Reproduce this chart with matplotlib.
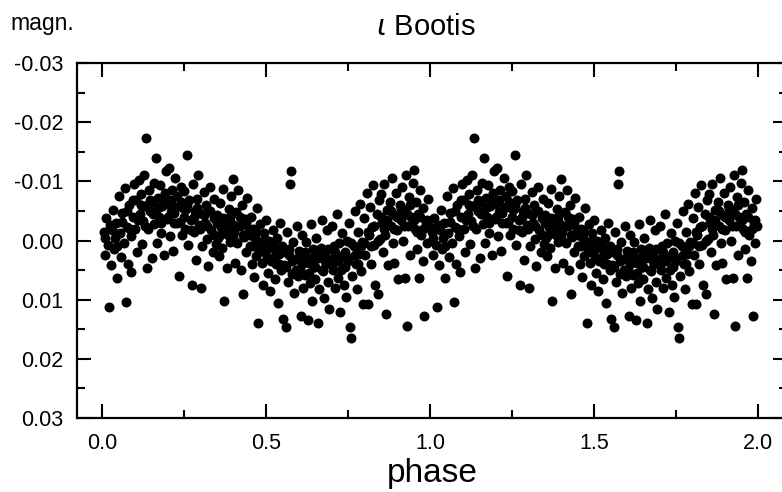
import numpy as np
import matplotlib
matplotlib.use('Agg')
import matplotlib.pyplot as plt
import matplotlib.ticker as tck

plt.rcParams['font.family'] = ['Liberation Sans', 'DejaVu Sans']
plt.rcParams['axes.unicode_minus'] = False

# phase-folded light curve of iota Bootis, one cycle
# magnitudes given in mmag
phase = [
    0.005, 0.010, 0.012, 0.018, 0.021, 0.025, 0.028, 0.033, 0.036, 0.040, 0.044, 0.047,
    0.052, 0.055, 0.058, 0.062, 0.066, 0.070, 0.073, 0.076, 0.080, 0.083, 0.087, 0.090, 0.094, 0.097,
    0.102, 0.105, 0.108, 0.112, 0.115, 0.118, 0.122, 0.125, 0.128, 0.131, 0.134, 0.137, 0.140, 0.144, 0.147,
    0.152, 0.155, 0.158, 0.160, 0.165, 0.168, 0.172, 0.175, 0.178, 0.181, 0.184, 0.188, 0.191, 0.194, 0.197,
    0.201, 0.204, 0.207, 0.210, 0.214, 0.217, 0.220, 0.224, 0.227, 0.230, 0.234, 0.237, 0.240, 0.244, 0.247,
    0.250, 0.253, 0.256, 0.260, 0.263, 0.266, 0.270, 0.273, 0.276, 0.280, 0.283, 0.286, 0.290, 0.293, 0.297,
    0.300, 0.303, 0.306, 0.310, 0.313, 0.316, 0.320, 0.323, 0.326, 0.330, 0.333, 0.337, 0.340, 0.343, 0.347,
    0.350, 0.353, 0.356, 0.360, 0.363, 0.367, 0.370, 0.373, 0.376, 0.380, 0.383, 0.387, 0.390, 0.393, 0.397,
    0.400, 0.403, 0.406, 0.410, 0.413, 0.416, 0.420, 0.423, 0.426, 0.430, 0.433, 0.436, 0.440, 0.443, 0.447,
    0.450, 0.453, 0.456, 0.460, 0.463, 0.467, 0.470, 0.473, 0.477, 0.480, 0.483, 0.487, 0.490, 0.493, 0.497,
    0.500, 0.503, 0.506, 0.510, 0.513, 0.516, 0.520, 0.523, 0.527, 0.530, 0.533, 0.537, 0.540, 0.543, 0.547,
    0.550, 0.553, 0.556, 0.560, 0.563, 0.566, 0.570, 0.574, 0.577, 0.580, 0.583, 0.586, 0.590, 0.593, 0.597,
    0.600, 0.603, 0.606, 0.610, 0.613, 0.616, 0.620, 0.623, 0.627, 0.630, 0.633, 0.637, 0.640, 0.643, 0.647,
    0.650, 0.653, 0.657, 0.660, 0.663, 0.667, 0.670, 0.673, 0.677, 0.680, 0.683, 0.687, 0.690, 0.693, 0.697,
    0.700, 0.703, 0.707, 0.710, 0.713, 0.717, 0.720, 0.723, 0.727, 0.730, 0.733, 0.737, 0.740, 0.743, 0.747,
    0.750, 0.753, 0.757, 0.760, 0.763, 0.767, 0.770, 0.773, 0.777, 0.780, 0.783, 0.787, 0.790, 0.793, 0.797,
    0.800, 0.803, 0.807, 0.810, 0.813, 0.817, 0.820, 0.823, 0.827, 0.830, 0.833, 0.837, 0.840, 0.843, 0.847,
    0.850, 0.853, 0.857, 0.860, 0.863, 0.867, 0.870, 0.873, 0.877, 0.880, 0.883, 0.887, 0.890, 0.893, 0.897,
    0.900, 0.903, 0.907, 0.910, 0.913, 0.917, 0.920, 0.923, 0.927, 0.930, 0.933, 0.937, 0.940, 0.943, 0.947,
    0.950, 0.953, 0.957, 0.960, 0.963, 0.967, 0.970, 0.973, 0.977, 0.980, 0.983, 0.987, 0.990, 0.993, 0.997,
]
mmag = [
    -1.5, 2.5, -3.8, 0.8, 11.3, -2.6, 4.2, -5.2, 1.5, -0.4, -3.0, 6.3,
    -7.5, -1.2, 2.8, -4.6, 0.5, -8.8, 10.4, -2.3, 3.9, -6.0, -0.8, 5.4, -4.0, -9.5,
    -1.9, -6.8, 2.0, -10.3, -4.5, -7.9, 0.6, -3.3, -11.0, -5.8, -17.3, 4.6, -2.0, -8.6, -5.0,
    3.0, -6.5, -9.8, -2.8, -14.0, 0.4, -7.2, -4.0, -9.3, -1.3, -5.8, 2.5, -8.0, -11.8, -3.6,
    -6.2, -12.3, -0.8, -4.8, -8.5, 1.8, -2.9, -10.5, -5.6, -7.6, 6.0, -3.2, -9.0, -1.0, -5.5,
    -8.4, -2.0, -5.3, -14.5, 0.8, -6.9, -3.4, 7.5, -9.6, -1.5, -5.0, 3.3, -7.0, -11.0, -2.6,
    -4.6, 8.0, 1.0, -8.2, -3.0, -6.0, -0.2, 4.3, -5.0, -9.0, -1.7, 2.0, -3.8, -7.0, 0.6,
    -4.3, -0.5, 2.6, -6.3, -2.2, 1.2, -8.7, 10.3, -3.3, 4.6, -1.0, -5.3, 0.3, -7.5, -2.8,
    -10.4, -1.5, 3.8, -4.8, 0.4, -8.5, -2.5, 5.0, -6.0, 9.0, -0.6, -3.6, 2.0, -7.2, -1.8,
    1.0, -4.0, 4.0, -2.0, 6.2, -0.5, 2.6, -5.5, 14.0, 0.5, -2.8, 3.8, 7.5, -1.2, 1.8,
    -3.5, 2.8, 5.5, 0.0, 8.5, 3.5, -1.8, 1.5, 6.5, 4.0, -0.5, 10.5, 2.2, -3.0, 5.0,
    1.0, 13.2, 4.2, 14.7, -1.5, 7.0, 2.5, -9.5, -11.8, 5.6, 0.3, 8.8, 3.2, -2.5, 6.0,
    1.8, 4.8, 12.7, -1.0, 8.0, 2.9, 5.8, 0.2, 13.5, 3.8, 7.2, -2.8, 10.3, 1.5, 4.5,
    6.5, -0.5, 3.0, 13.9, 8.2, 1.2, -3.5, 5.2, 9.8, 2.0, 4.0, -1.8, 7.0, 11.5, 3.2,
    -2.5, 5.0, 1.0, 8.0, 3.5, -4.5, 6.3, 0.5, 12.0, 2.8, -1.2, 7.5, 4.5, 9.5, 0.0,
    3.5, -3.0, 14.7, 16.5, 6.0, 1.0, -5.0, 4.0, 8.2, -1.5, 2.2, -6.2, 5.2, 0.2, 10.8,
    -3.8, 2.5, -8.0, 10.7, -1.0, -5.6, 4.0, -2.2, -9.4, 0.8, 7.5, -4.5, 9.0, -6.8, -0.3,
    -7.8, -3.0, 2.0, -9.5, -1.0, 12.5, -5.2, 4.2, -6.5, -2.5, -10.5, 0.5, 3.8, -4.3, -8.0,
    -1.8, 6.5, -6.0, -3.5, -9.0, 0.0, -5.0, 6.3, -11.0, 14.5, -2.5, -7.3, 2.5, -4.0, -9.8,
    -12.0, -2.0, -6.5, 1.5, -4.5, 6.3, -8.5, -1.0, 3.5, -5.5, 12.8, -3.0, 0.5, -7.0, -2.5,
]

# extra points in the dense core of the band
phase_core = [
    0.010, 0.030, 0.045, 0.060, 0.075, 0.085, 0.095, 0.110, 0.120, 0.130,
    0.145, 0.155, 0.170, 0.180, 0.190, 0.200, 0.210, 0.220, 0.230, 0.240,
    0.250, 0.260, 0.270, 0.280, 0.290, 0.300, 0.310, 0.320, 0.330, 0.340,
    0.350, 0.360, 0.370, 0.380, 0.390, 0.400, 0.410, 0.420, 0.430, 0.440,
    0.450, 0.460, 0.470, 0.480, 0.490, 0.500, 0.510, 0.520, 0.530, 0.540,
    0.550, 0.560, 0.570, 0.580, 0.590, 0.600, 0.610, 0.620, 0.630, 0.640,
    0.650, 0.660, 0.670, 0.680, 0.690, 0.700, 0.710, 0.720, 0.730, 0.740,
    0.750, 0.760, 0.770, 0.780, 0.790, 0.800, 0.810, 0.820, 0.830, 0.840,
    0.850, 0.860, 0.870, 0.880, 0.890, 0.900, 0.910, 0.920, 0.930, 0.940,
    0.950, 0.960, 0.970, 0.980, 0.990,
]
mmag_core = [
    -0.5, -1.8, 1.0, -3.2, -5.0, -2.0, -6.8, -3.5, -6.0, -2.5,
    -6.8, -4.5, -5.5, -3.0, -6.5, -4.0, -6.8, -4.6, -3.0, -6.5,
    -4.0, -6.0, -1.8, -4.0, -5.5, -2.0, -4.3, -2.5, -5.0, -1.0,
    -3.0, -1.0, -3.8, -2.0, -4.0, -0.5, -2.5, -4.0, -1.0, -3.0,
    -1.0, 1.0, -1.5, 2.0, 0.0, 1.5, 3.0, 0.5, 2.5, 4.0,
    2.0, 4.5, 1.5, 3.5, 5.0, 3.0, 4.0, 2.0, 5.5, 3.0,
    4.5, 2.5, 5.0, 3.5, 1.5, 4.0, 2.0, 3.5, 5.0, 2.0,
    3.0, 0.5, 2.5, 4.0, 1.0, 0.5, -1.5, 1.0, -2.5, 0.0,
    -4.0, -2.0, -3.5, -5.0, -2.0, -4.0, -5.5, -2.5, -4.5, -6.0,
    -3.5, -1.5, -4.0, -2.0, -3.5,
]

x_ticks = [0.0, 0.5, 1.0, 1.5, 2.0]
y_ticks = [-0.03, -0.02, -0.01, 0.00, 0.01, 0.02, 0.03]

if __name__ == '__main__':

    ph = np.array(phase + phase_core)
    mag = np.array(mmag + mmag_core) / 1000.0

    # plot two cycles
    ph2 = np.concatenate([ph, ph + 1.0])
    mag2 = np.concatenate([mag, mag])

    fig = plt.figure(figsize=(7.82, 4.92), dpi=100)
    ax = fig.add_axes([0.0985, 0.1504, 0.9079, 0.7215])

    ax.plot(ph2, mag2, linestyle='none', marker='o', markersize=7.2,
            color='k', markeredgewidth=0)

    ax.set_xlim(-0.076, 2.088)
    ax.set_ylim(0.03, -0.03)

    ax.set_xticks(x_ticks)
    ax.set_xticklabels([f'{t:.1f}' for t in x_ticks])
    ax.set_yticks(y_ticks)
    ax.set_yticklabels([f'{t:.2f}' for t in y_ticks])
    ax.xaxis.set_minor_locator(tck.MultipleLocator(0.25))
    ax.yaxis.set_minor_locator(tck.MultipleLocator(0.005))

    ax.tick_params(which='both', direction='in', top=True, right=True,
                   width=1.5, labelsize=15.5)
    ax.tick_params(which='major', length=10)
    ax.tick_params(which='minor', length=6)
    ax.tick_params(axis='x', pad=11)
    ax.tick_params(axis='y', pad=10)

    for s in ax.spines.values():
        s.set_linewidth(1.6)

    ax.set_xlabel('phase', fontsize=24, labelpad=3)

    fig.text(0.545, 0.945, r'$\iota$ Bootis', fontsize=21, ha='center', va='center')
    fig.text(0.013, 0.952, 'magn.', fontsize=16.5, ha='left', va='center')

    plt.savefig('out.png', dpi=100)
